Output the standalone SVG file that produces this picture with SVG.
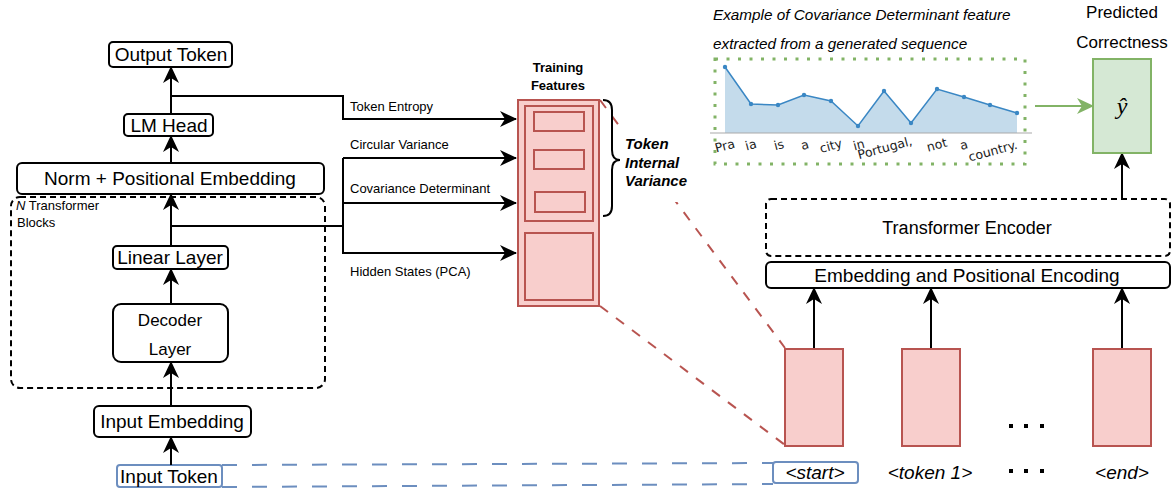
<svg xmlns="http://www.w3.org/2000/svg" width="1174" height="490" viewBox="0 0 1174 490">
<defs>
<style>
.box{fill:#fff;stroke:#000;stroke-width:2}
.dash{fill:none;stroke:#000;stroke-width:2;stroke-dasharray:6 4}
.t{font-family:"Liberation Sans",Arial,sans-serif;fill:#000}
.c{text-anchor:middle}
.ln{fill:none;stroke:#000;stroke-width:2}
.red{fill:#f8cecc;stroke:#b85450;stroke-width:2}
.rdash{fill:none;stroke:#b85450;stroke-width:2;stroke-dasharray:10 10}
.bdash{fill:none;stroke:#6c8ebf;stroke-width:2;stroke-dasharray:15 15}
.ax{font-family:"DejaVu Sans",sans-serif;font-size:12.5px;fill:#222;text-anchor:middle}
</style>
<marker id="ah" markerUnits="userSpaceOnUse" markerWidth="18" markerHeight="18" refX="16" refY="9" orient="auto" viewBox="0 0 18 18">
<path d="M0,1 L17,9 L0,17 L5,9 z" fill="#000"/>
</marker>
<marker id="ahg" markerUnits="userSpaceOnUse" markerWidth="18" markerHeight="18" refX="16" refY="9" orient="auto" viewBox="0 0 18 18">
<path d="M0,1 L17,9 L0,17 L5,9 z" fill="#82b366"/>
</marker>
</defs>
<rect width="1174" height="490" fill="#fff"/>

<!-- decoder side -->
<g id="n-blocks">
<rect class="dash" x="11" y="197" width="314" height="191" rx="9"/>
<text class="t" x="16" y="210" font-size="13"><tspan font-style="italic">N</tspan> Transformer</text>
<text class="t" x="17" y="227" font-size="13">Blocks</text>
</g>
<g id="output-token"><rect class="box" x="109" y="42" width="123" height="25" rx="4"/><text class="t c" x="171" y="61" font-size="19">Output Token</text></g>
<g id="lm-head"><rect class="box" x="124" y="114" width="89" height="22" rx="4"/><text class="t c" x="169" y="132" font-size="19">LM Head</text></g>
<g id="norm"><rect class="box" x="17" y="163" width="307" height="31" rx="5"/><text class="t c" x="170" y="185" font-size="19">Norm + Positional Embedding</text></g>
<g id="linear"><rect class="box" x="113" y="246" width="115" height="23" rx="4"/><text class="t c" x="170" y="264" font-size="19">Linear Layer</text></g>
<g id="decoder"><rect class="box" x="113" y="304" width="115" height="58" rx="8"/><text class="t c" x="170" y="326" font-size="17">Decoder</text><text class="t c" x="170" y="355" font-size="17">Layer</text></g>
<g id="input-emb"><rect class="box" x="94" y="406" width="157" height="31" rx="5"/><text class="t c" x="172" y="428" font-size="19">Input Embedding</text></g>
<g id="input-token"><rect x="117" y="465" width="105" height="22" rx="3" fill="#fff" stroke="#6c8ebf" stroke-width="2"/><text class="t c" x="169" y="483" font-size="19">Input Token</text></g>

<!-- training features -->
<g id="training-features">
<text class="t c" x="558" y="72" font-size="13" font-weight="bold">Training</text>
<text class="t c" x="558" y="90" font-size="13" font-weight="bold">Features</text>
<rect class="red" x="518" y="100" width="81" height="206"/>
<rect class="red" x="525" y="106" width="68" height="115"/>
<rect class="red" x="534" y="112" width="50" height="19"/>
<rect class="red" x="534" y="150" width="50" height="19"/>
<rect class="red" x="535" y="192" width="50" height="20"/>
<rect class="red" x="525" y="233" width="68" height="67"/>
</g>

<!-- connectors -->
<g id="connectors">
<line class="ln" x1="171" y1="465" x2="171" y2="437" marker-end="url(#ah)"/>
<line class="ln" x1="171" y1="406" x2="171" y2="362" marker-end="url(#ah)"/>
<line class="ln" x1="171" y1="304" x2="171" y2="269" marker-end="url(#ah)"/>
<line class="ln" x1="171" y1="246" x2="171" y2="194" marker-end="url(#ah)"/>
<line class="ln" x1="171" y1="163" x2="171" y2="136" marker-end="url(#ah)"/>
<line class="ln" x1="171" y1="114" x2="171" y2="67" marker-end="url(#ah)"/>
<polyline class="ln" points="171,96 343,96 343,119 516,119" marker-end="url(#ah)"/>
<line class="ln" x1="171" y1="226" x2="343" y2="226"/>
<line class="ln" x1="343" y1="158" x2="343" y2="253"/>
<line class="ln" x1="343" y1="158" x2="516" y2="158" marker-end="url(#ah)"/>
<line class="ln" x1="343" y1="203" x2="516" y2="203" marker-end="url(#ah)"/>
<line class="ln" x1="342" y1="253" x2="516" y2="253" marker-end="url(#ah)"/>
<text class="t" x="350" y="111" font-size="13">Token Entropy</text>
<text class="t" x="350" y="149" font-size="13">Circular Variance</text>
<text class="t" x="350" y="193" font-size="13">Covariance Determinant</text>
<text class="t" x="350" y="276" font-size="13">Hidden States (PCA)</text>
<line class="rdash" x1="600" y1="100" x2="785" y2="348"/>
<line class="rdash" x1="600" y1="306" x2="785" y2="445"/>
<line class="bdash" x1="222" y1="465" x2="773" y2="463"/>
<line class="bdash" x1="222" y1="487" x2="773" y2="484"/>
<line class="ln" x1="814" y1="349" x2="814" y2="288" marker-end="url(#ah)"/>
<line class="ln" x1="931" y1="349" x2="931" y2="288" marker-end="url(#ah)"/>
<line class="ln" x1="1122" y1="349" x2="1122" y2="288" marker-end="url(#ah)"/>
<line class="ln" x1="1122" y1="199" x2="1122" y2="153" marker-end="url(#ah)"/>
<line x1="1035" y1="106" x2="1093" y2="106" stroke="#82b366" stroke-width="2" marker-end="url(#ahg)"/>
</g>

<g id="tiv-label">
<rect x="618" y="130" width="78" height="72" fill="#fff"/>
<path class="ln" d="M603,100 Q612,100 612,110 L612,150 Q612,160 620,160 Q612,160 612,170 L612,206 Q612,216 603,216"/>
<text class="t" x="625" y="149" font-size="15" font-weight="bold" font-style="italic">Token</text>
<text class="t" x="625" y="168" font-size="15" font-weight="bold" font-style="italic">Internal</text>
<text class="t" x="625" y="186" font-size="15" font-weight="bold" font-style="italic">Variance</text>
</g>

<!-- chart -->
<g id="chart">
<text class="t" x="713" y="20" font-size="15.3" font-style="italic" fill="#222">Example of Covariance Determinant feature</text>
<text class="t" x="713" y="49" font-size="15.3" font-style="italic" fill="#222">extracted from a generated sequence</text>
<polygon points="725,67 751,104 778,105 804,95 831,101 858,126 884,91 911,123 937,89 964,97 990,105 1017,113 1017,133 725,133" fill="#c4dbeb"/>
<polyline points="725,67 751,104 778,105 804,95 831,101 858,126 884,91 911,123 937,89 964,97 990,105 1017,113" fill="none" stroke="#3a87c4" stroke-width="1.5"/>
<g fill="#3a87c4">
<circle cx="725" cy="67" r="2.2"/><circle cx="751" cy="104" r="2.2"/><circle cx="778" cy="105" r="2.2"/><circle cx="804" cy="95" r="2.2"/><circle cx="831" cy="101" r="2.2"/><circle cx="858" cy="126" r="2.2"/><circle cx="884" cy="91" r="2.2"/><circle cx="911" cy="123" r="2.2"/><circle cx="937" cy="89" r="2.2"/><circle cx="964" cy="97" r="2.2"/><circle cx="990" cy="105" r="2.2"/><circle cx="1017" cy="113" r="2.2"/>
</g>
<line x1="710" y1="133" x2="1032" y2="133" stroke="#aaa" stroke-width="1.2"/>
<text class="ax" transform="rotate(-15 726 150)" x="726" y="150">Pra</text>
<text class="ax" transform="rotate(-15 752 149)" x="752" y="149">ia</text>
<text class="ax" transform="rotate(-15 780 149)" x="780" y="149">is</text>
<text class="ax" transform="rotate(-15 806 149)" x="806" y="149">a</text>
<text class="ax" transform="rotate(-15 832 150)" x="832" y="150">city</text>
<text class="ax" transform="rotate(-15 860 149)" x="860" y="149">in</text>
<text class="ax" transform="rotate(-15 886 152)" x="886" y="152">Portugal,</text>
<text class="ax" transform="rotate(-15 938 149)" x="938" y="149">not</text>
<text class="ax" transform="rotate(-15 965 149)" x="965" y="149">a</text>
<text class="ax" transform="rotate(-15 994 155)" x="994" y="155">country.</text>
<rect x="715" y="59" width="310" height="105" fill="none" stroke="#82b366" stroke-width="3" stroke-dasharray="3 8.5"/>
</g>

<!-- right side -->
<g id="prediction">
<text class="t c" x="1122" y="18" font-size="17">Predicted</text>
<text class="t c" x="1122" y="48" font-size="17">Correctness</text>
<rect x="1093" y="59" width="58" height="94" fill="#d5e8d4" stroke="#82b366" stroke-width="2"/>
<text x="1122" y="114" text-anchor="middle" font-family="Liberation Serif,serif" font-style="italic" font-size="24">ŷ</text>
</g>
<g id="transformer-encoder"><rect class="dash" x="766" y="199" width="404" height="57" rx="5"/><text class="t c" x="967" y="234" font-size="18">Transformer Encoder</text></g>
<g id="embedding-pos"><rect class="box" x="766" y="262" width="404" height="26" rx="5"/><text class="t c" x="967" y="282" font-size="19">Embedding and Positional Encoding</text></g>
<g id="tok-start"><rect class="red" x="785" y="349" width="58" height="97"/></g>
<g id="tok-1"><rect class="red" x="902" y="349" width="58" height="97"/></g>
<g id="tok-end"><rect class="red" x="1093" y="349" width="58" height="97"/></g>
<g id="labels">
<rect x="773" y="462" width="85" height="21" rx="3" fill="#fff" stroke="#6c8ebf" stroke-width="2"/>
<text class="t c" x="815" y="479" font-size="19" font-style="italic">&lt;start&gt;</text>
<text class="t c" x="930" y="479" font-size="19" font-style="italic">&lt;token 1&gt;</text>
<text class="t c" x="1122" y="479" font-size="19" font-style="italic">&lt;end&gt;</text>
<g fill="#000">
<rect x="1009" y="424" width="4" height="4"/><rect x="1024" y="424" width="4" height="4"/><rect x="1040" y="424" width="4" height="4"/>
<rect x="1009" y="469" width="4" height="4"/><rect x="1024" y="469" width="4" height="4"/><rect x="1040" y="469" width="4" height="4"/>
</g>
</g>
</svg>
